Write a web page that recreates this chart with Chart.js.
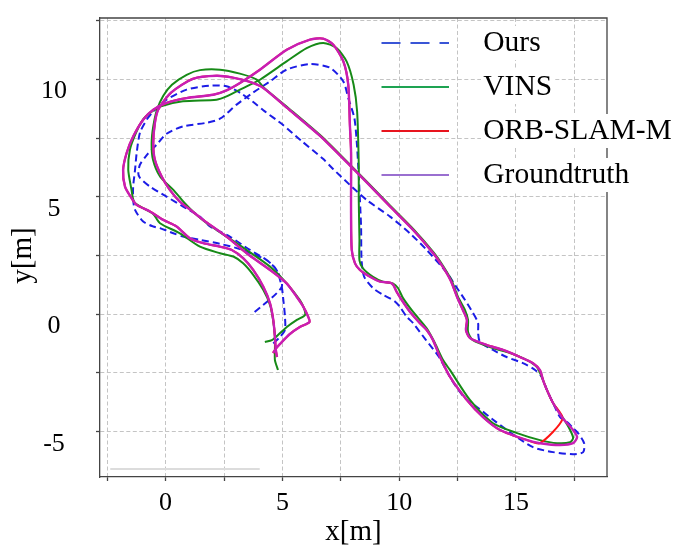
<!DOCTYPE html>
<html lang="en">
<head>
  <meta charset="UTF-8" />
  <title>Trajectory comparison</title>
  <script src="https://cdn.jsdelivr.net/npm/chart.js"></script>
  <style>
    html, body { margin: 0; padding: 0; background: #fff; }
    #chart-container { width: 698px; height: 551px; position: relative; }
  </style>
</head>
<body>
  <div id="chart-container"><canvas id="myChart"></canvas></div>
  <script>
    // trajectories, [x, y] in metres
    const ours = [
      [4.61,-1.24],[4.90,-0.96],[5.11,-0.67],[5.11,-0.10],[5.04,0.61],[4.97,1.18],[4.75,1.89],[4.33,2.31],
      [3.83,2.53],[3.18,2.78],[2.33,3.00],[1.47,3.17],[0.75,3.31],[0.33,3.45],[-0.24,3.67],[-0.53,3.74],
      [-0.96,3.95],[-1.31,4.45],[-1.39,4.87],[-1.39,5.44],[-1.31,6.15],[-1.24,6.87],[-1.10,7.73],[-0.81,8.29],
      [-0.54,8.63],[0.04,9.14],[0.90,9.57],[1.90,9.74],[2.61,9.71],[3.18,9.44],[3.74,9.05],[4.17,8.70],
      [5.02,8.07],[5.80,7.40],[6.74,6.62],[7.18,6.18],[7.89,5.51],[8.61,4.87],[9.61,4.16],[10.46,3.45],
      [11.18,2.74],[12.05,1.76],[12.39,1.25],[12.82,0.61],[13.16,0.06],[13.38,-0.37],[13.38,-0.80],
      [13.46,-1.17],[14.02,-1.52],[14.60,-1.82],[15.30,-2.08],[15.82,-2.37],[16.10,-2.66],[16.33,-3.23],[16.59,-3.78],
      [16.89,-4.38],[17.19,-4.59],[17.45,-4.85],[17.66,-5.06],[17.92,-5.49],[17.88,-5.87],[17.45,-5.96],[16.59,-5.87],
      [15.73,-5.66],[14.85,-5.10],[14.10,-4.55],[13.40,-4.00],[12.80,-3.55],[12.25,-2.80],[11.70,-1.81],[11.15,-1.10],
      [10.59,-0.37],[10.32,-0.10],[10.03,0.32],[9.82,0.54],[9.61,0.68],[9.32,0.82],[8.89,1.11],[8.50,1.60],
      [8.39,2.32],[8.37,3.72],[8.32,4.87],[8.25,6.28],[8.18,7.40],[8.08,8.37],[7.82,9.21],[7.61,9.92],
      [7.04,10.50],[6.18,10.66],[5.18,10.42],[4.47,9.92],[3.74,9.44],[3.04,8.93],[2.33,8.33],[1.76,8.16],
      [0.74,8.00],[0.04,7.69],[-0.39,7.22],[-0.80,6.79],[-1.10,6.37],[-1.17,6.01],[-1.10,5.81],[-0.67,5.44],
      [0.04,5.01],[0.75,4.59],[1.47,4.16],[1.90,3.74],[2.75,3.31],[3.61,2.74],[4.33,2.31],[4.75,1.89],
      [4.97,1.16],[3.75,0.04]
    ];
    const vins = [
      [4.81,-2.37],[4.68,-1.95],[4.68,-1.52],[4.68,-0.93],[4.60,-0.24],[4.47,0.40],[4.18,1.04],[3.75,1.68],
      [3.32,2.17],[2.90,2.46],[2.33,2.60],[1.47,2.88],[0.61,3.45],[-0.24,3.88],[-0.54,4.28],[-1.10,4.60],
      [-1.36,4.80],[-1.46,5.30],[-1.60,6.15],[-1.53,7.01],[-1.27,7.73],[-0.97,8.29],[-0.67,8.58],[-0.24,8.85],
      [0.74,9.07],[2.18,9.14],[2.61,9.28],[3.47,9.71],[4.04,9.99],[5.18,10.77],[6.04,11.34],[6.75,11.56],
      [7.32,11.34],[7.75,10.77],[8.05,9.78],[8.20,8.64],[8.27,6.37],[8.27,4.87],[8.30,3.17],[8.30,2.30],
      [8.45,1.96],[8.88,1.60],[9.31,1.39],[9.73,1.32],[9.95,1.12],[10.16,0.70],[10.59,0.11],[11.18,-0.60],
      [11.53,-1.22],[11.88,-1.95],[12.18,-2.38],[13.03,-3.65],[14.02,-4.64],[15.05,-5.06],[16.03,-5.36],[16.76,-5.49],
      [17.32,-5.45],[17.45,-5.27],[17.32,-4.93],[17.02,-4.42],[16.59,-3.78],[16.33,-3.23],[16.16,-2.80],[15.90,-2.25],
      [15.47,-1.95],[14.75,-1.65],[14.02,-1.44],[13.16,-1.10],[12.95,-0.75],[12.95,-0.24],[12.82,0.18],[12.52,0.74],
      [12.24,1.45],[11.89,2.05],[11.50,2.60],[10.64,3.59],[9.65,4.59],[8.65,5.62],[7.93,6.34],[6.65,7.60],
      [5.24,8.80],[4.21,9.65],[3.90,10.00],[3.18,10.25],[2.33,10.42],[1.47,10.40],[0.90,10.20],
      [0.27,9.78],[-0.10,9.31],[-0.37,8.71],[-0.53,8.00],[-0.60,7.29],[-0.54,6.58],[-0.24,5.87],[0.33,5.30],
      [0.80,4.75],[1.25,4.30],[1.76,3.88],[2.61,3.31],[3.47,2.74],[4.47,2.03],[5.18,1.32],[5.75,0.61],
      [5.92,0.27],[5.97,-0.03],[5.62,-0.24],[5.19,-0.54],[4.90,-0.80],[4.55,-1.10],[4.25,-1.18]
    ];
    const orbSlamM = [
      [4.77,-1.82],[4.72,-1.52],[4.68,-0.96],[4.61,-0.24],[4.47,0.47],[4.18,1.18],[3.75,1.89],[3.32,2.39],
      [2.83,2.74],[2.33,2.88],[1.61,3.03],[1.04,3.24],[0.47,3.74],[-0.10,4.02],[-0.67,4.38],[-1.24,4.66],
      [-1.46,4.95],[-1.74,5.44],[-1.82,6.15],[-1.67,6.87],[-1.39,7.57],[-0.96,8.29],[-0.53,8.71],[0.04,9.00],
      [0.90,9.21],[2.04,9.35],[2.61,9.54],[3.18,9.85],[4.04,10.42],[5.19,11.27],[6.18,11.70],[6.75,11.74],
      [7.18,11.48],[7.61,10.77],[7.82,9.78],[7.89,8.07],[7.94,6.92],[7.94,5.43],[7.94,4.32],[7.97,2.74],
      [8.11,2.17],[8.32,1.89],[8.75,1.60],[9.18,1.39],[9.61,1.35],[9.75,1.25],[9.89,0.96],[10.11,0.61],
      [10.46,0.11],[10.89,-0.38],[11.18,-0.67],[11.45,-1.10],[11.75,-1.82],[12.18,-2.67],[12.90,-3.65],[13.59,-4.38],
      [14.32,-4.93],[15.48,-5.36],[16.03,-5.49],[17.00,-4.45],[16.59,-3.78],[16.33,-3.23],[16.16,-2.80],[16.03,-2.38],
      [15.73,-2.08],[15.17,-1.82],[14.45,-1.52],[13.76,-1.31],[13.03,-1.01],[12.86,-0.67],[12.90,-0.24],[12.73,0.18],
      [12.48,0.74],[12.20,1.45],[11.85,2.05],[11.46,2.60],[10.60,3.59],[9.61,4.59],[8.61,5.62],[7.89,6.34],
      [6.61,7.60],[5.19,8.80],[4.17,9.65],[3.61,9.90],[2.88,10.08],[2.18,10.16],[1.17,10.03],
      [0.23,9.44],[-0.32,8.71],[-0.46,8.14],[-0.53,7.29],[-0.46,6.58],[-0.17,5.87],[0.18,5.30],[0.61,4.80],
      [1.10,4.42],[1.61,4.02],[2.61,3.31],[3.47,2.60],[4.47,1.89],[5.18,1.32],[5.61,0.75],[5.88,0.35],
      [6.09,-0.07],[6.16,-0.33],[5.75,-0.54],[5.32,-0.84],[4.89,-1.27],[4.74,-1.44],[4.60,-1.65]
    ];
    const groundtruth = [
      [4.77,-1.82],[4.72,-1.52],[4.68,-0.96],[4.61,-0.24],[4.47,0.47],[4.18,1.18],[3.75,1.89],[3.32,2.39],
      [2.83,2.74],[2.33,2.88],[1.61,3.03],[1.04,3.24],[0.47,3.74],[-0.10,4.02],[-0.67,4.38],[-1.24,4.66],
      [-1.46,4.95],[-1.74,5.44],[-1.82,6.15],[-1.67,6.87],[-1.39,7.57],[-0.96,8.29],[-0.53,8.71],[0.04,9.00],
      [0.90,9.21],[2.04,9.35],[2.61,9.54],[3.18,9.85],[4.04,10.42],[5.19,11.27],[6.18,11.70],[6.75,11.74],
      [7.18,11.48],[7.61,10.77],[7.82,9.78],[7.89,8.07],[7.94,6.92],[7.94,5.43],[7.94,4.32],[7.97,2.74],
      [8.11,2.17],[8.32,1.89],[8.75,1.60],[9.18,1.39],[9.61,1.35],[9.75,1.25],[9.89,0.96],[10.11,0.61],
      [10.46,0.11],[10.89,-0.38],[11.18,-0.67],[11.45,-1.10],[11.75,-1.82],[12.18,-2.67],[12.90,-3.65],[13.59,-4.38],
      [14.32,-4.93],[15.48,-5.36],[16.03,-5.49],[16.89,-5.57],[17.45,-5.49],[17.62,-5.23],[17.45,-4.93],[17.19,-4.64],
      [16.97,-4.38],[16.59,-3.78],[16.33,-3.23],[16.16,-2.80],[16.03,-2.38],[15.73,-2.08],[15.17,-1.82],[14.45,-1.52],
      [13.76,-1.31],[13.03,-1.01],[12.86,-0.67],[12.90,-0.24],[12.73,0.18],[12.48,0.74],[12.20,1.45],[11.85,2.05],
      [11.46,2.60],[10.60,3.59],[9.61,4.59],[8.61,5.62],[7.89,6.34],[6.61,7.60],[5.19,8.80],
      [4.17,9.65],[3.61,9.90],[2.88,10.08],[2.18,10.16],[1.17,10.03],[0.23,9.44],[-0.32,8.71],[-0.46,8.14],
      [-0.53,7.29],[-0.46,6.58],[-0.17,5.87],[0.18,5.30],[0.61,4.80],[1.10,4.42],[1.61,4.02],[2.61,3.31],
      [3.47,2.60],[4.47,1.89],[5.18,1.32],[5.61,0.75],[5.88,0.35],[6.09,-0.07],[6.16,-0.33],[5.75,-0.54],
      [5.32,-0.84],[4.89,-1.27],[4.74,-1.44],[4.60,-1.65]
    ];

    const seriesNames = ['Ours', 'VINS', 'ORB-SLAM-M', 'Groundtruth'];
    const xTicks = [-2.5, 0, 2.5, 5, 7.5, 10, 12.5, 15, 17.5];
    const xTickLabels = ['', '0', '', '5', '', '10', '', '15', ''];
    const yTicks = [-5, -2.5, 0, 2.5, 5, 7.5, 10, 12.5];
    const yTickLabels = ['-5', '', '0', '', '5', '', '10', ''];
    const xTitle = 'x[m]';
    const yTitle = 'y[m]';

    const SERIF = "'Liberation Serif', 'Times New Roman', serif";
    const toPoints = pairs => pairs.map(([x, y]) => ({ x, y }));

    // frame, grey bar in the corner, y title and the legend
    const decorations = {
      id: 'decorations',
      afterDatasetsDraw(chart) {
        const { ctx, chartArea: { left, right, top, bottom } } = chart;
        ctx.save();
        ctx.strokeStyle = '#444';
        ctx.lineWidth = 1.3;
        ctx.beginPath();
        ctx.moveTo(left, top);
        ctx.lineTo(right, top);
        ctx.lineTo(right, bottom);
        ctx.stroke();
        ctx.strokeStyle = '#dcdcdc';
        ctx.lineWidth = 2;
        ctx.lineCap = 'round';
        ctx.beginPath();
        ctx.moveTo(left + 11, bottom - 8);
        ctx.lineTo(left + 159, bottom - 8);
        ctx.stroke();
        ctx.restore();
      },
      afterDraw(chart) {
        const { ctx } = chart;
        ctx.save();
        ctx.fillStyle = '#000';
        ctx.font = '29px ' + SERIF;
        ctx.textAlign = 'center';
        ctx.textBaseline = 'middle';
        ctx.translate(23.5, 255.5);
        ctx.rotate(-Math.PI / 2);
        ctx.fillText(yTitle, 0, 0);
        ctx.restore();

        ctx.save();
        ctx.font = '29.5px ' + SERIF;
        ctx.textBaseline = 'middle';
        chart.data.datasets.forEach((ds, i) => {
          const y = 43 + i * 44;
          const w = ctx.measureText(ds.label).width;
          ctx.fillStyle = '#fff';
          ctx.fillRect(481, y - 17, w + 5, 34);
          ctx.strokeStyle = ds.legendColor;
          ctx.lineWidth = 2;
          ctx.setLineDash(ds.legendDash || []);
          ctx.beginPath();
          ctx.moveTo(381.5, y);
          ctx.lineTo(449, y);
          ctx.stroke();
          ctx.fillStyle = '#000';
          ctx.fillText(ds.label, 483.3, y);
        });
        ctx.restore();
      }
    };

    Chart.defaults.font.family = SERIF;
    Chart.defaults.color = '#000';

    new Chart(document.getElementById('myChart'), {
      type: 'scatter',
      data: {
        datasets: [
          {
            label: seriesNames[0], data: toPoints(ours), order: 3,
            borderColor: '#1c1ce6', borderWidth: 2, borderDash: [7, 4],
            legendColor: '#3a55d6', legendDash: [19, 10]
          },
          {
            label: seriesNames[1], data: toPoints(vins), order: 2,
            borderColor: '#178a17', borderWidth: 2, legendColor: '#1ea352'
          },
          {
            label: seriesNames[2], data: toPoints(orbSlamM), order: 1,
            borderColor: '#ff1414', borderWidth: 2, legendColor: '#e8141e'
          },
          {
            label: seriesNames[3], data: toPoints(groundtruth), order: 0,
            borderColor: '#c81eb4', borderWidth: 2.4, legendColor: '#9a6fd0'
          }
        ]
      },
      options: {
        responsive: true,
        maintainAspectRatio: false,
        animation: false,
        showLine: true,
        elements: {
          point: { radius: 0, hoverRadius: 0 },
          line: { tension: 0.25, fill: false }
        },
        layout: { padding: { top: 18, right: 91, bottom: 0, left: 0 } },
        plugins: { legend: { display: false }, tooltip: { enabled: false } },
        scales: {
          x: {
            type: 'linear',
            min: -2.81,
            max: 18.9,
            afterBuildTicks: scale => { scale.ticks = xTicks.map(v => ({ value: v })); },
            afterFit: scale => { scale.height = 74; scale.paddingLeft = 0; scale.paddingRight = 0; },
            grid: { color: '#c4c4c4', lineWidth: 1, tickLength: 4, tickColor: '#444', tickWidth: 1.3 },
            border: { display: true, color: '#444', width: 1.3, dash: [4, 2.5] },
            ticks: {
              autoSkip: false,
              maxRotation: 0,
              padding: 7,
              font: { size: 26 },
              callback: (value, index) => xTickLabels[index] ?? ''
            },
            title: { display: true, text: xTitle, font: { size: 29 }, padding: { top: 0, bottom: 1 } }
          },
          y: {
            type: 'linear',
            min: -6.93,
            max: 12.62,
            afterBuildTicks: scale => { scale.ticks = yTicks.map(v => ({ value: v })); },
            afterFit: scale => { scale.width = 100; scale.paddingTop = 0; scale.paddingBottom = 0; },
            grid: { color: '#c4c4c4', lineWidth: 1, tickLength: 4, tickColor: '#444', tickWidth: 1.3 },
            border: { display: true, color: '#444', width: 1.3, dash: [4, 2.5] },
            ticks: {
              autoSkip: false,
              crossAlign: 'center',
              padding: 29,
              labelOffset: 12,
              font: { size: 26 },
              callback: (value, index) => yTickLabels[index] ?? ''
            },
            title: { display: false }
          }
        }
      },
      plugins: [decorations]
    });
  </script>
</body>
</html>
